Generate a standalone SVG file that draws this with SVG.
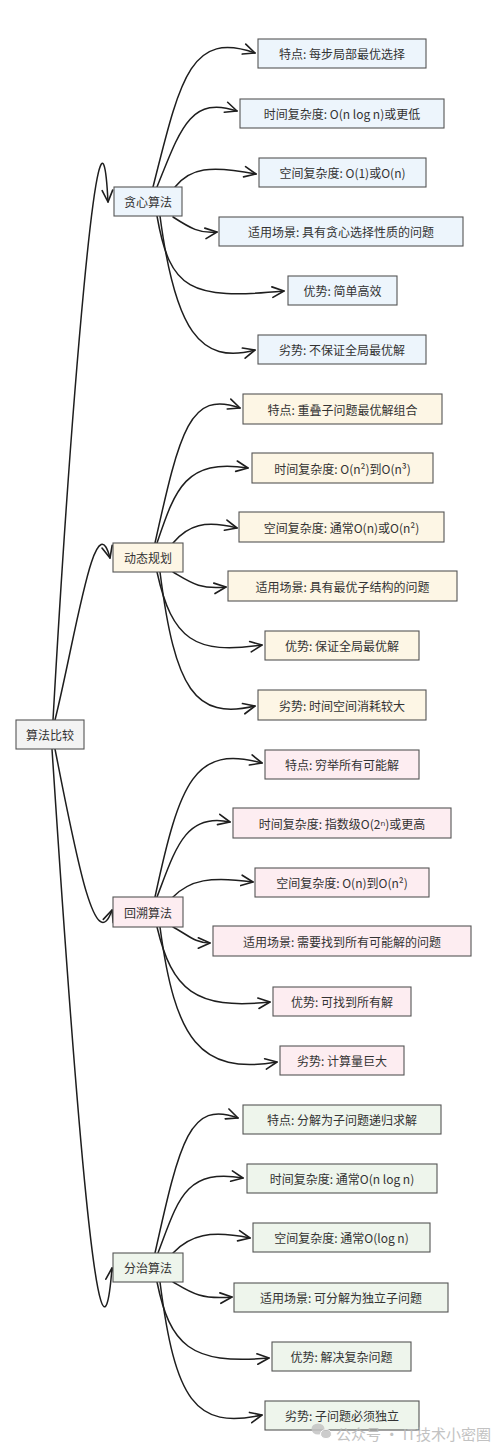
<svg xmlns="http://www.w3.org/2000/svg" width="502" height="1448" viewBox="0 0 502 1448">
<style>
  .box{stroke:#555;stroke-width:1.1}
  .root{fill:#f3f3f3}
  .g{fill:#edf5fc}
  .d{fill:#fdf6e5}
  .b{fill:#fdedf1}
  .c{fill:#eef5ec}
  text{font-family:"Noto Sans CJK SC","Noto Sans",sans-serif;font-size:12px;fill:#333;text-anchor:middle;dominant-baseline:central}
  .wm{font-size:15px;fill:#b8b8b8;text-anchor:start}
  #connectors path{fill:none;stroke:#1e1e1e;stroke-width:1.5;stroke-linecap:round;marker-end:url(#arr)}
</style>
<defs>
  <marker id="arr" markerUnits="userSpaceOnUse" markerWidth="14" markerHeight="14" viewBox="0 0 12 12" refX="11" refY="6" orient="auto">
    <path d="M1,1.5 L11,6 L1,10.5" fill="none" stroke="#1e1e1e" stroke-width="1.4" stroke-linecap="round" stroke-linejoin="round"/>
  </marker>
</defs>
<rect width="502" height="1448" fill="#ffffff"/>

<g id="connectors">
  <!-- root to categories -->
  <path d="M53 720 C70 420,100 40,108 202"/>
  <path d="M55 720 C75 640,95 500,110 558"/>
  <path d="M55 749 C75 850,95 960,112 910"/>
  <path d="M52 749 C75 1100,100 1420,112 1268"/>
  <!-- greedy -->
  <path d="M153 187 C180 80,190 30,255 53"/>
  <path d="M157 187 C180 130,190 95,237 111"/>
  <path d="M175 187 C190 168,210 165,256 174"/>
  <path d="M173 217 C190 228,200 234,217 232"/>
  <path d="M157 216 C170 290,190 300,284 291"/>
  <path d="M160 216 C175 330,200 365,255 350"/>
  <!-- dp -->
  <path d="M155 543 C180 430,190 390,240 408"/>
  <path d="M157 543 C175 490,185 458,248 468"/>
  <path d="M173 543 C188 525,205 520,237 528"/>
  <path d="M173 572 C190 582,200 590,226 587"/>
  <path d="M157 572 C172 640,195 655,262 645"/>
  <path d="M160 572 C175 690,195 720,255 706"/>
  <!-- backtracking -->
  <path d="M155 897 C180 780,195 745,262 763"/>
  <path d="M157 897 C175 850,185 812,230 822"/>
  <path d="M173 897 C190 880,210 876,253 882"/>
  <path d="M173 927 C188 935,195 943,210 943"/>
  <path d="M157 927 C172 990,195 1010,270 1002"/>
  <path d="M160 927 C175 1040,200 1075,277 1062"/>
  <!-- divide and conquer -->
  <path d="M155 1253 C180 1140,190 1100,238 1118"/>
  <path d="M158 1253 C178 1200,185 1168,243 1178"/>
  <path d="M173 1253 C190 1235,210 1230,250 1238"/>
  <path d="M173 1282 C190 1292,200 1300,232 1297"/>
  <path d="M157 1282 C170 1345,190 1365,269 1358"/>
  <path d="M160 1282 C175 1400,195 1430,262 1415"/>
</g>

<g id="root"><rect class="box root" x="16" y="720" width="68" height="29"/><text x="50" y="734.5">算法比较</text></g>

<g id="greedy"><rect class="box g" x="114" y="187" width="68" height="29"/><text x="148" y="201.5">贪心算法</text></g>
<g id="g1"><rect class="box g" x="258" y="39" width="168" height="29"/><text x="342" y="53.5">特点: 每步局部最优选择</text></g>
<g id="g2"><rect class="box g" x="240" y="99" width="204" height="29"/><text x="342" y="113.5">时间复杂度: O(n log n)或更低</text></g>
<g id="g3"><rect class="box g" x="259" y="158" width="167" height="29"/><text x="342.5" y="172.5">空间复杂度: O(1)或O(n)</text></g>
<g id="g4"><rect class="box g" x="219" y="217" width="244" height="29"/><text x="341" y="231.5">适用场景: 具有贪心选择性质的问题</text></g>
<g id="g5"><rect class="box g" x="288" y="276" width="109" height="29"/><text x="342.5" y="290.5">优势: 简单高效</text></g>
<g id="g6"><rect class="box g" x="258" y="335" width="168" height="29"/><text x="342" y="349.5">劣势: 不保证全局最优解</text></g>

<g id="dp"><rect class="box d" x="113" y="543" width="70" height="29"/><text x="148" y="557.5">动态规划</text></g>
<g id="d1"><rect class="box d" x="243" y="394" width="199" height="30"/><text x="342.5" y="409">特点: 重叠子问题最优解组合</text></g>
<g id="d2"><rect class="box d" x="252" y="453" width="181" height="30"/><text x="342.5" y="468">时间复杂度: O(n²)到O(n³)</text></g>
<g id="d3"><rect class="box d" x="239" y="512" width="205" height="30"/><text x="341.5" y="527">空间复杂度: 通常O(n)或O(n²)</text></g>
<g id="d4"><rect class="box d" x="228" y="571" width="229" height="30"/><text x="342.5" y="586">适用场景: 具有最优子结构的问题</text></g>
<g id="d5"><rect class="box d" x="265" y="631" width="154" height="29"/><text x="342" y="645.5">优势: 保证全局最优解</text></g>
<g id="d6"><rect class="box d" x="258" y="690" width="168" height="30"/><text x="342" y="705">劣势: 时间空间消耗较大</text></g>

<g id="bt"><rect class="box b" x="113" y="897" width="70" height="30"/><text x="148" y="912">回溯算法</text></g>
<g id="b1"><rect class="box b" x="265" y="750" width="154" height="29"/><text x="342" y="764.5">特点: 穷举所有可能解</text></g>
<g id="b2"><rect class="box b" x="233" y="808" width="218" height="30"/><text x="342" y="823">时间复杂度: 指数级O(2ⁿ)或更高</text></g>
<g id="b3"><rect class="box b" x="255" y="868" width="174" height="29"/><text x="342" y="882.5">空间复杂度: O(n)到O(n²)</text></g>
<g id="b4"><rect class="box b" x="213" y="926" width="258" height="30"/><text x="342" y="941">适用场景: 需要找到所有可能解的问题</text></g>
<g id="b5"><rect class="box b" x="273" y="987" width="138" height="29"/><text x="342" y="1001.5">优势: 可找到所有解</text></g>
<g id="b6"><rect class="box b" x="280" y="1046" width="124" height="29"/><text x="342" y="1060.5">劣势: 计算量巨大</text></g>

<g id="dc"><rect class="box c" x="113" y="1253" width="70" height="29"/><text x="148" y="1267.5">分治算法</text></g>
<g id="c1"><rect class="box c" x="243" y="1105" width="198" height="29"/><text x="342" y="1119.5">特点: 分解为子问题递归求解</text></g>
<g id="c2"><rect class="box c" x="247" y="1164" width="190" height="29"/><text x="342" y="1178.5">时间复杂度: 通常O(n log n)</text></g>
<g id="c3"><rect class="box c" x="253" y="1223" width="177" height="29"/><text x="341.5" y="1237.5">空间复杂度: 通常O(log n)</text></g>
<g id="c4"><rect class="box c" x="234" y="1283" width="214" height="29"/><text x="341" y="1297.5">适用场景: 可分解为独立子问题</text></g>
<g id="c5"><rect class="box c" x="272" y="1342" width="139" height="29"/><text x="341.5" y="1356.5">优势: 解决复杂问题</text></g>
<g id="c6"><rect class="box c" x="265" y="1401" width="154" height="29"/><text x="342" y="1415.5">劣势: 子问题必须独立</text></g>

<g id="watermark" opacity="0.85">
  <ellipse cx="318" cy="1429" rx="6.5" ry="5.5" fill="#c4c4c4"/>
  <ellipse cx="326" cy="1434" rx="5.5" ry="4.6" fill="#c4c4c4" stroke="#fff" stroke-width="1"/>
  <text class="wm" x="336" y="1433">公众号 · IT技术小密圈</text>
</g>
</svg>
